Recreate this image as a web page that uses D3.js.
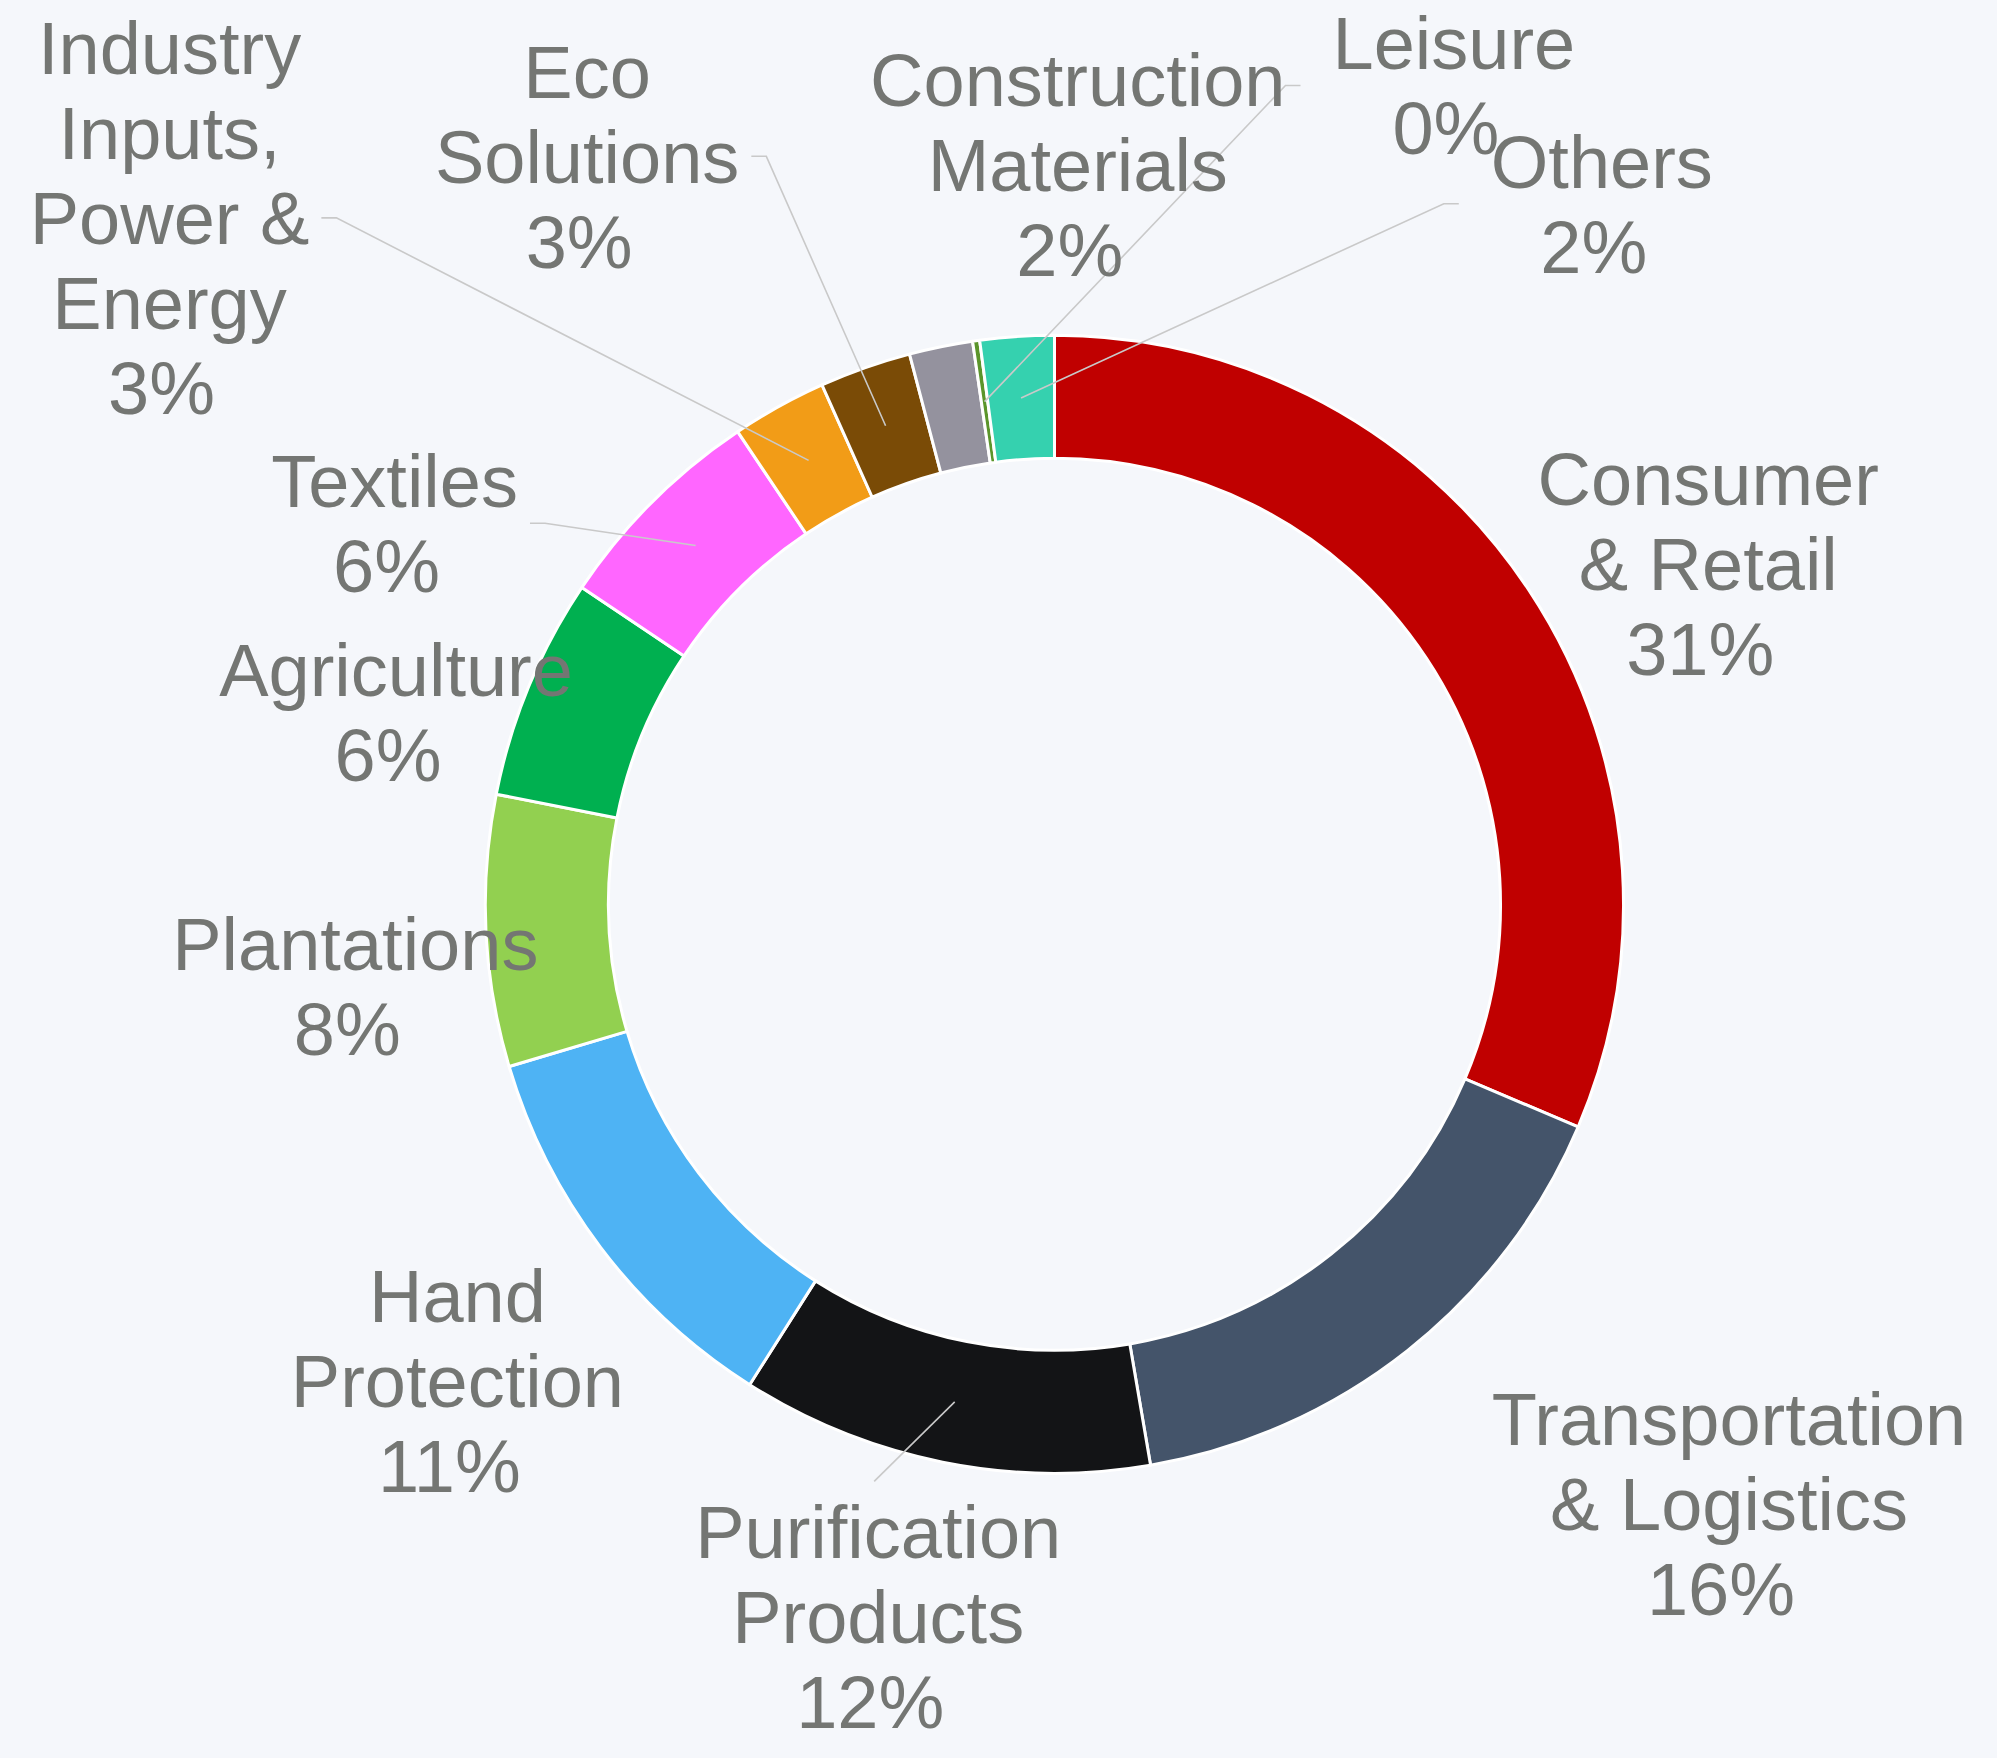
<!DOCTYPE html>
<html><head><meta charset="utf-8">
<script src="https://cdn.jsdelivr.net/npm/d3@7"></script>
<style>html,body{margin:0;padding:0;background:#f5f7fb;} svg{display:block;}</style>
</head><body>
<svg id="chart" width="1997" height="1758"></svg>
<script>
const categories = ["Consumer & Retail","Transportation & Logistics","Purification Products","Hand Protection","Plantations","Agriculture","Textiles","Industry Inputs, Power & Energy","Eco Solutions","Construction Materials","Leisure","Others"];
const values = [31.4,15.9,11.7,11.4,7.7,6.3,6.2,2.7,2.6,1.8,0.2,2.1];
const colors = ["#c00000","#44546a","#131416","#4eb3f4","#92d050","#00b050","#ff66ff","#f29c17","#7a4b06","#94929e","#5b952b","#35d1af"];

// layout (not data): label polar position [deg clockwise from 12 o'clock, distance from centre], leader attach side
const labelPolar = [[62.5,737],[131.6,902],[193.9,734],[231.4,764],[263.3,704],[286.3,686],[300.0,762],[307.8,1120],[328.0,882],[1.8,740],[26.0,911],[38.0,889]];
const leader = [null,null,"top",null,null,null,"right","right","right",null,"left","left"];

const W = 1997, H = 1758;
const cx = 1054.5, cy = 904.3, R = 569, r0 = 446;
const fontSize = 74, lineH = 85, capH = 53, wrapW = 390;
const textColor = "#747673", lineColor = "#c9c9c9";

const svg = d3.select("#chart");
svg.append("rect").attr("width", W).attr("height", H).attr("fill", "#f5f7fb");
const g = svg.append("g").attr("transform", `translate(${cx},${cy})`);

const total = d3.sum(values);
const pie = d3.pie().sort(null).value(d => d);
const arcs = pie(values);
const arc = d3.arc().innerRadius(r0).outerRadius(R);
const midArc = d3.arc().innerRadius((r0 + R) / 2).outerRadius((r0 + R) / 2);

g.selectAll("path.slice").data(arcs).join("path")
  .attr("class", "slice")
  .attr("d", arc)
  .attr("fill", (d, i) => colors[i])
  .attr("stroke", "#ffffff")
  .attr("stroke-width", 3)
  .attr("stroke-linejoin", "round");

const lineLayer = g.append("g");
const labelLayer = g.append("g")
  .attr("font-family", "'Liberation Sans', Arial, Helvetica, sans-serif")
  .attr("font-size", fontSize)
  .attr("fill", textColor)
  .attr("text-anchor", "middle");

// word wrap helper using measured text
const meas = labelLayer.append("text").attr("visibility", "hidden");
function wrap(str) {
  const words = str.split(" ");
  const lines = [];
  let cur = "";
  words.forEach(w => {
    const test = cur ? cur + " " + w : w;
    meas.text(test);
    if (cur && meas.node().getComputedTextLength() > wrapW) {
      lines.push(cur); cur = w;
    } else cur = test;
  });
  if (cur) lines.push(cur);
  return lines;
}

arcs.forEach((a, i) => {
  const [deg, dist] = labelPolar[i];
  const rad = deg * Math.PI / 180;
  const lx = Math.sin(rad) * dist, ly = -Math.cos(rad) * dist;
  const pct = Math.round(values[i] / total * 100) + "%";
  const lines = wrap(categories[i]);
  const all = lines.concat([pct]);
  const n = all.length;
  const grp = labelLayer.append("g").attr("transform", `translate(${lx},${ly})`);
  all.forEach((t, k) => {
    grp.append("text")
      .attr("x", k === n - 1 ? -8 : 0)
      .attr("y", (k - (n - 1) / 2) * lineH + capH / 2)
      .text(t);
  });
  const side = leader[i];
  if (side) {
    const bb = grp.node().getBBox();
    const c = midArc.centroid(a);
    let pts;
    if (side === "right") {
      const ex = lx + bb.x + bb.width + 12;
      pts = [c, [ex + 15, ly], [ex, ly]];
    } else if (side === "left") {
      const ex = lx + bb.x - 32;
      pts = [c, [ex - 15, ly], [ex, ly]];
    } else {
      const topY = ly - (n - 1) / 2 * lineH - capH / 2;
      pts = [c, [lx - 4, topY - 24]];
    }
    lineLayer.append("path")
      .attr("d", d3.line()(pts))
      .attr("fill", "none")
      .attr("stroke", lineColor)
      .attr("stroke-width", 1.6);
  }
});
meas.remove();
</script>
</body></html>
